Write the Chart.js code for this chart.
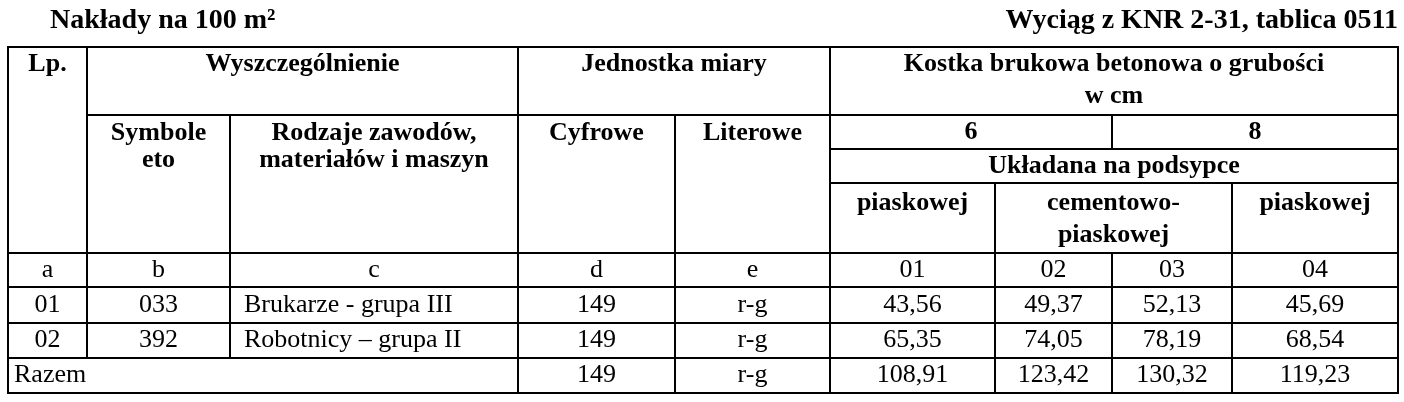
<!DOCTYPE html>
<html>
<head>
<meta charset="utf-8">
<script src="https://cdn.jsdelivr.net/npm/chart.js@4"></script>
<style>
  html, body { margin: 0; padding: 0; background: #fff; }
</style>
</head>
<body>
<canvas id="table" width="1404" height="402"></canvas>
<script>
// Table content
var lp = ['01', '02'];
var symbols = ['033', '392'];
var names = ['Brukarze - grupa III', 'Robotnicy \u2013 grupa II'];
var unitCodes = ['149', '149', '149'];
var unitLetters = ['r-g', 'r-g', 'r-g'];
var colCodes = ['01', '02', '03', '04'];
var row01 = ['43,56', '49,37', '52,13', '45,69'];
var row02 = ['65,35', '74,05', '78,19', '68,54'];
var rowTotal = ['108,91', '123,42', '130,32', '119,23'];

// column edges and row edges (in scale units = px)
var X = [8, 87, 230, 518, 675, 830, 995, 1112, 1232, 1398];
var Y = [47, 115, 149, 183, 253, 287, 323, 358, 393];

var tablePlugin = {
    id: 'tablePlugin',
    afterDraw: function(chart) {
        var ctx = chart.ctx;
        var sx = chart.scales.x, sy = chart.scales.y;
        var px = function(v) { return sx.getPixelForValue(v); };
        var py = function(v) { return sy.getPixelForValue(v); };
        var bold = 'bold 26px "Liberation Serif"';
        var reg = '26px "Liberation Serif"';

        function line(x1, y1, x2, y2) {
            ctx.beginPath();
            ctx.moveTo(px(x1), py(y1));
            ctx.lineTo(px(x2), py(y2));
            ctx.stroke();
        }
        function text(t, x, y, font, align) {
            ctx.font = font;
            ctx.textAlign = align || 'center';
            ctx.textBaseline = 'middle';
            ctx.fillText(t, px(x), py(y));
        }

        ctx.save();
        ctx.fillStyle = '#000';
        ctx.strokeStyle = '#000';
        ctx.lineWidth = 2;

        // titles
        text('Nak\u0142ady na 100 m\u00b2', 50, 21, 'bold 28px "Liberation Serif"', 'left');
        text('Wyci\u0105g z KNR 2-31, tablica 0511', 1398, 21, 'bold 28px "Liberation Serif"', 'right');

        // outer border
        ctx.strokeRect(px(X[0]), py(Y[0]), px(X[9]) - px(X[0]), py(Y[8]) - py(Y[0]));

        // horizontal lines
        line(X[1], Y[1], X[9], Y[1]);
        line(X[5], Y[2], X[9], Y[2]);
        line(X[5], Y[3], X[9], Y[3]);
        for (var i = 4; i <= 7; i++) line(X[0], Y[i], X[9], Y[i]);

        // vertical lines
        line(X[1], Y[0], X[1], Y[7]);
        line(X[2], Y[1], X[2], Y[7]);
        line(X[3], Y[0], X[3], Y[8]);
        line(X[4], Y[1], X[4], Y[8]);
        line(X[5], Y[0], X[5], Y[8]);
        line(X[6], Y[3], X[6], Y[8]);
        line(X[7], Y[1], X[7], Y[2]);
        line(X[7], Y[4], X[7], Y[8]);
        line(X[8], Y[3], X[8], Y[8]);

        // header texts
        text('Lp.', (X[0] + X[1]) / 2, 64, bold);
        text('Wyszczeg\u00f3lnienie', (X[1] + X[3]) / 2, 64, bold);
        text('Jednostka miary', (X[3] + X[5]) / 2, 64, bold);
        text('Kostka brukowa betonowa o grubo\u015bci', (X[5] + X[9]) / 2, 64, bold);
        text('w cm', (X[5] + X[9]) / 2, 96, bold);
        text('Symbole', (X[1] + X[2]) / 2, 133, bold);
        text('eto', (X[1] + X[2]) / 2, 160, bold);
        text('Rodzaje zawod\u00f3w,', (X[2] + X[3]) / 2, 133, bold);
        text('materia\u0142\u00f3w i maszyn', (X[2] + X[3]) / 2, 160, bold);
        text('Cyfrowe', (X[3] + X[4]) / 2, 133, bold);
        text('Literowe', (X[4] + X[5]) / 2, 133, bold);
        text('6', (X[5] + X[7]) / 2, 132, bold);
        text('8', (X[7] + X[9]) / 2, 132, bold);
        text('Uk\u0142adana na podsypce', (X[5] + X[9]) / 2, 166, bold);
        text('piaskowej', (X[5] + X[6]) / 2, 203, bold);
        text('cementowo-', (X[6] + X[8]) / 2, 203, bold);
        text('piaskowej', (X[6] + X[8]) / 2, 235, bold);
        text('piaskowej', (X[8] + X[9]) / 2, 203, bold);

        // letter row
        var letters = ['a', 'b', 'c', 'd', 'e'];
        var ry = (Y[4] + Y[5]) / 2;
        letters.forEach(function(l, k) { text(l, (X[k] + X[k + 1]) / 2, ry, reg); });
        colCodes.forEach(function(c, k) { text(c, (X[5 + k] + X[6 + k]) / 2, ry, reg); });

        // data rows
        var rows = [row01, row02];
        rows.forEach(function(vals, r) {
            var y = (Y[5 + r] + Y[6 + r]) / 2;
            text(lp[r], (X[0] + X[1]) / 2, y, reg);
            text(symbols[r], (X[1] + X[2]) / 2, y, reg);
            text(names[r], X[2] + 14, y, reg, 'left');
            text(unitCodes[r], (X[3] + X[4]) / 2, y, reg);
            text(unitLetters[r], (X[4] + X[5]) / 2, y, reg);
            vals.forEach(function(v, k) { text(v, (X[5 + k] + X[6 + k]) / 2, y, reg); });
        });
        var ty = (Y[7] + Y[8]) / 2;
        text('Razem', X[0] + 6, ty, reg, 'left');
        text(unitCodes[2], (X[3] + X[4]) / 2, ty, reg);
        text(unitLetters[2], (X[4] + X[5]) / 2, ty, reg);
        rowTotal.forEach(function(v, k) { text(v, (X[5 + k] + X[6 + k]) / 2, ty, reg); });

        ctx.restore();
    }
};

new Chart(document.getElementById('table').getContext('2d'), {
    type: 'scatter',
    data: { datasets: [{ data: [] }] },
    options: {
        responsive: false,
        animation: false,
        layout: { padding: 0 },
        plugins: { legend: { display: false }, tooltip: { enabled: false } },
        scales: {
            x: { type: 'linear', min: 0, max: 1404, display: false },
            y: { type: 'linear', min: 0, max: 402, reverse: true, display: false }
        }
    },
    plugins: [tablePlugin]
});
</script>
</body>
</html>
